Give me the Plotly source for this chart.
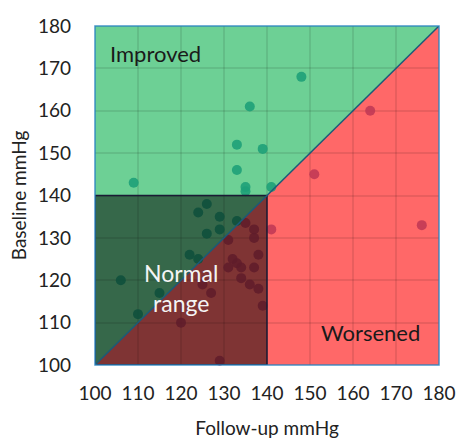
import plotly.graph_objects as go

# ---- data ----
improved_followup = [109, 133, 136, 139, 133, 135, 135, 141, 148,
                     126, 124, 129, 129, 133, 126, 122, 124, 106, 115, 110]
improved_baseline = [143, 152, 161, 151, 146, 142, 141, 142, 168,
                     138, 136, 135, 132, 134, 131, 126, 125, 120, 117, 112]

worsened_followup = [164, 151, 141, 176, 135, 137, 137, 131, 138, 132, 133, 131,
                     134, 137, 125, 127, 134, 136, 138, 139, 120, 129]
worsened_baseline = [160, 145, 132, 133, 133.5, 132, 130, 129.5, 126, 125, 124, 123,
                     123, 123, 119, 117, 120.5, 119, 118, 114, 110, 101]

axis_range = [100, 180]
normal_limit = 140
tick_values = [100, 110, 120, 130, 140, 150, 160, 170, 180]
tick_labels = ["100", "110", "120", "130", "140", "150", "160", "170", "180"]

FONT = "Lato"
lo, hi = axis_range

fig = go.Figure()
fig.add_trace(go.Scatter(x=improved_followup, y=improved_baseline, mode="markers",
                         marker=dict(size=10, color="rgba(30,160,120,0.9)"),
                         hoverinfo="skip", showlegend=False, cliponaxis=False))
fig.add_trace(go.Scatter(x=worsened_followup, y=worsened_baseline, mode="markers",
                         marker=dict(size=10, color="rgba(190,55,85,0.85)"),
                         hoverinfo="skip", showlegend=False, cliponaxis=False))

shapes = [
    dict(type="path", path=f"M {lo},{lo} L {lo},{hi} L {hi},{hi} Z", xref="x", yref="y",
         fillcolor="#6dd095", line=dict(width=0), layer="below"),
    dict(type="path", path=f"M {lo},{lo} L {hi},{lo} L {hi},{hi} Z", xref="x", yref="y",
         fillcolor="#ff6868", line=dict(width=0), layer="below"),
    dict(type="rect", x0=lo, y0=lo, x1=normal_limit, y1=normal_limit, xref="x", yref="y",
         fillcolor="rgba(0,0,0,0.5)", line=dict(color="#1b1b35", width=1.5), layer="above"),
    dict(type="line", x0=lo, y0=lo, x1=hi, y1=hi, xref="x", yref="y",
         line=dict(color="#1c5a78", width=1.5), layer="above"),
    dict(type="rect", x0=0, y0=0, x1=1, y1=1, xref="paper", yref="paper",
         line=dict(color="rgba(40,130,190,0.85)", width=1.5), layer="above"),
]
fig.update_layout(shapes=shapes)

fig.add_annotation(x=103, y=173.6, text="Improved", showarrow=False, xanchor="left",
                   font=dict(family=FONT, size=22, color="#1a1a1a"))
fig.add_annotation(x=164, y=107.6, text="Worsened", showarrow=False, xanchor="center",
                   font=dict(family=FONT, size=22, color="#1a1a1a"))
fig.add_annotation(x=120, y=118.2, text="Normal<br>range", showarrow=False, xanchor="center",
                   font=dict(family=FONT, size=23, color="#f4f4f4"))

axis_common = dict(range=axis_range, tickvals=tick_values, ticktext=tick_labels,
                   showgrid=True, gridcolor="rgba(0,0,0,0.09)", gridwidth=2,
                   zeroline=False, showline=False, ticks="", automargin=False,
                   ticklabeloverflow="allow",
                   tickfont=dict(family=FONT, size=19, color="#222"),
                   fixedrange=True)
fig.update_xaxes(**axis_common, ticklabelstandoff=15,
                 title=dict(text="Follow-up mmHg", font=dict(family=FONT, size=19, color="#222"),
                            standoff=20))
fig.update_yaxes(**axis_common, ticklabelstandoff=23,
                 title=dict(text="Baseline mmHg", font=dict(family=FONT, size=19, color="#222"),
                            standoff=6))

fig.update_layout(width=457, height=439,
                  margin=dict(l=95, r=18, t=26, b=74),
                  paper_bgcolor="white", plot_bgcolor="rgba(0,0,0,0)",
                  showlegend=False)

# remove the default page margin so the figure fills the window exactly
fig.write_html("out.html", config={"displayModeBar": False},
               post_script="document.body.style.margin='0';document.body.style.overflow='hidden';")
